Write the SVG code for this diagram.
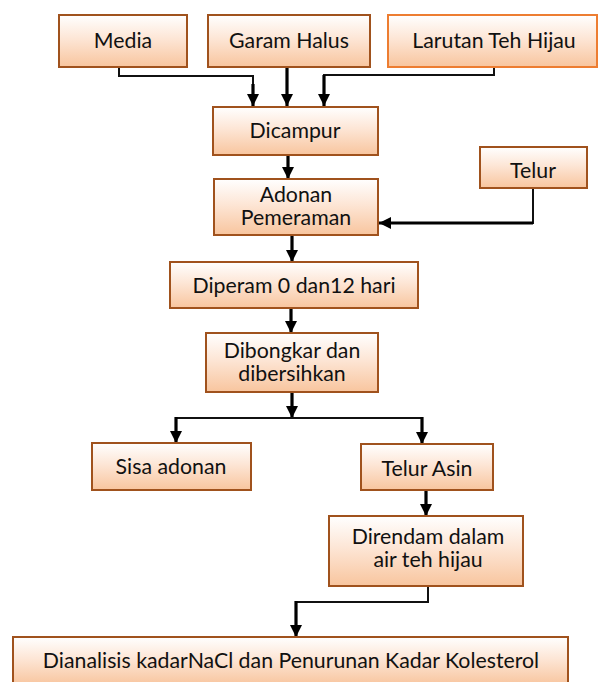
<svg xmlns="http://www.w3.org/2000/svg" width="599" height="682" viewBox="0 0 599 682">
<style>
.box{fill:url(#g);stroke:#a0521d;stroke-width:2}
.box2{fill:url(#g);stroke:#ed7d31;stroke-width:2}
text{font-family:Lato,"Liberation Sans",sans-serif;font-size:21.3px;fill:#111;text-anchor:middle}
.thin{fill:none;stroke:#111;stroke-width:2}
.thick{fill:none;stroke:#000;stroke-width:3.2}
</style>
<defs>
<linearGradient id="g" x1="0" y1="0" x2="0" y2="1">
<stop offset="0" stop-color="#ffffff"/>
<stop offset="0.45" stop-color="#fde6d6"/>
<stop offset="1" stop-color="#f8c59e"/>
</linearGradient>
<marker id="a" markerUnits="userSpaceOnUse" markerWidth="14" markerHeight="12" refX="12" refY="6" orient="auto">
<path d="M0,0 L12,6 L0,12 z" fill="#000"/>
</marker>
</defs>
<g id="connectors">
<polyline class="thin" points="119,67 119,76 253,76 253,84"/>
<line class="thick" x1="253" y1="84" x2="253" y2="106" marker-end="url(#a)"/>
<line class="thick" x1="287" y1="68" x2="287" y2="106" marker-end="url(#a)"/>
<polyline class="thin" points="494,67 494,75 324,75 324,84"/>
<line class="thick" x1="324" y1="75" x2="324" y2="106" marker-end="url(#a)"/>
<line class="thick" x1="288" y1="155" x2="288" y2="179" marker-end="url(#a)"/>
<polyline class="thin" points="533,188 533,223 520,223"/>
<line class="thick" x1="533" y1="223" x2="379" y2="223" marker-end="url(#a)"/>
<line class="thick" x1="292" y1="235" x2="292" y2="262" marker-end="url(#a)"/>
<line class="thick" x1="291" y1="308" x2="291" y2="333" marker-end="url(#a)"/>
<line class="thick" x1="292" y1="392" x2="292" y2="418" marker-end="url(#a)"/>
<polyline class="thin" points="176,418 422,418"/>
<line class="thick" x1="176" y1="417" x2="176" y2="443" marker-end="url(#a)"/>
<line class="thick" x1="422" y1="417" x2="422" y2="444" marker-end="url(#a)"/>
<line class="thick" x1="426" y1="490" x2="426" y2="516" marker-end="url(#a)"/>
<polyline class="thin" points="428,586 428,602 296,602"/>
<line class="thick" x1="296" y1="601" x2="296" y2="637" marker-end="url(#a)"/>
</g>
<g id="media"><rect class="box" x="59" y="15" width="128" height="52"/><text x="123" y="48">Media</text></g>
<g id="garam"><rect class="box" x="208" y="15" width="162" height="52"/><text x="289" y="48">Garam Halus</text></g>
<g id="larutan"><rect class="box2" x="388" y="15" width="209" height="52"/><text x="494" y="48">Larutan Teh Hijau</text></g>
<g id="dicampur"><rect class="box" x="213" y="107" width="165" height="48"/><text x="295" y="138">Dicampur</text></g>
<g id="telur"><rect class="box" x="480" y="147" width="107" height="41"/><text x="533" y="178">Telur</text></g>
<g id="adonan"><rect class="box" x="214" y="179" width="164" height="56"/><text x="296" y="202">Adonan</text><text x="296" y="225">Pemeraman</text></g>
<g id="diperam"><rect class="box" x="170" y="262" width="248" height="46"/><text x="294" y="293">Diperam 0 dan12 hari</text></g>
<g id="dibongkar"><rect class="box" x="206" y="333" width="172" height="59"/><text x="292" y="358">Dibongkar dan</text><text x="292" y="381">dibersihkan</text></g>
<g id="sisa"><rect class="box" x="92" y="443" width="159" height="47"/><text x="171" y="474">Sisa adonan</text></g>
<g id="telurasin"><rect class="box" x="361" y="444" width="132" height="46"/><text x="427" y="476">Telur Asin</text></g>
<g id="direndam"><rect class="box" x="329" y="516" width="194" height="70"/><text x="428" y="544">Direndam dalam</text><text x="428" y="567">air teh hijau</text></g>
<g id="analisis"><rect class="box" x="13" y="637" width="555" height="48"/><text x="291" y="668">Dianalisis kadarNaCl dan Penurunan Kadar Kolesterol</text></g>
</svg>
